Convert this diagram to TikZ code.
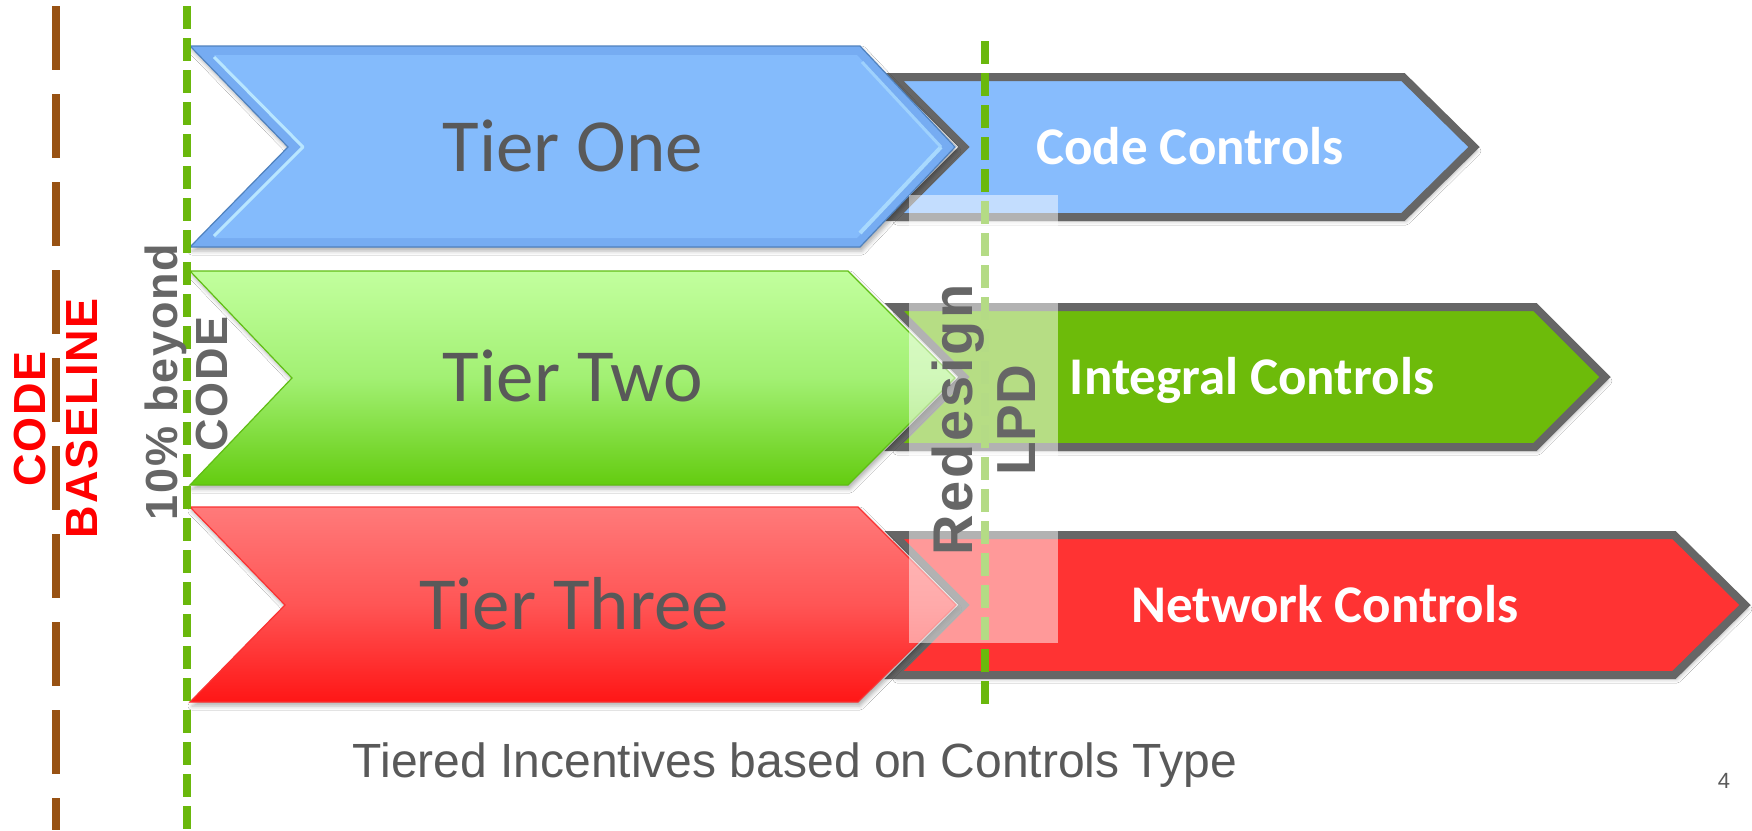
\documentclass[tikz,border=0pt]{standalone}
\usepackage{fontspec}
\setmainfont{Liberation Sans}
\newfontfamily\calfont{Carlito}
\usetikzlibrary{shadows.blur}
\definecolor{brownline}{RGB}{152,82,19}
\definecolor{greenline}{RGB}{106,184,12}
\definecolor{graybd}{RGB}{102,102,102}
\definecolor{tiergray}{RGB}{89,89,89}
\definecolor{blueA}{RGB}{132,187,252}
\definecolor{blueB}{RGB}{118,172,242}
\definecolor{blueE}{RGB}{80,130,190}
\definecolor{blueL}{RGB}{184,230,255}
\definecolor{boxblue}{RGB}{135,188,253}
\definecolor{boxgreen}{RGB}{109,187,10}
\definecolor{boxred}{RGB}{255,51,51}
\definecolor{gtop}{RGB}{194,255,158}
\definecolor{gmid}{RGB}{162,240,115}
\definecolor{gbot}{RGB}{100,204,16}
\definecolor{gedge}{RGB}{96,190,20}
\definecolor{rtop}{RGB}{255,122,122}
\definecolor{rmid}{RGB}{255,85,85}
\definecolor{rbot}{RGB}{255,22,22}
\definecolor{redge}{RGB}{250,50,50}
\tikzset{
  ctrlbox/.style={draw=graybd, line width=8pt, line join=miter,
    blur shadow={shadow xshift=3pt, shadow yshift=-4pt, shadow blur radius=4pt, shadow opacity=30}},
  tiershadow/.style={blur shadow={shadow xshift=2pt, shadow yshift=-4pt, shadow blur radius=4pt, shadow opacity=30}},
  tiertext/.style={text=tiergray, font=\calfont\fontsize{75}{80}\selectfont, inner sep=0pt, anchor=base},
  ctrltext/.style={text=white, font=\calfont\bfseries\fontsize{53}{58}\selectfont, inner sep=0pt, anchor=base},
  sidetext/.style={font=\bfseries\fontsize{45}{50}\selectfont\addfontfeature{LetterSpace=4}, inner sep=0pt, anchor=base, rotate=90},
  lpdtext/.style={text=graybd, font=\bfseries\fontsize{55}{60}\selectfont, inner sep=0pt, anchor=base, rotate=90},
}
\begin{document}
\begin{tikzpicture}[x=1pt,y=-1pt]
\useasboundingbox[fill=white] (0,0) rectangle (1752,830);

% right control shapes
\path[ctrlbox, fill=boxblue] (894,77) -- (1403,77) -- (1474,147) -- (1403,217) -- (894,217) -- (964,147) -- cycle;
\path[ctrlbox, fill=boxgreen] (894,307) -- (1535,307) -- (1605,377) -- (1535,447) -- (894,447) -- (964,377) -- cycle;
\path[ctrlbox, fill=boxred] (894,535) -- (1674,535) -- (1745,605) -- (1674,675) -- (894,675) -- (964,605) -- cycle;

% Tier One (bevelled)
\path[tiershadow, fill=blueB, draw=blueE, line width=1.2pt] (190,46) -- (860,46) -- (955,147) -- (860,247) -- (190,247) -- (288,147) -- cycle;
\path[fill=blueA] (214,55) -- (857,55) -- (941,147) -- (857,238) -- (214,238) -- (303,147) -- cycle;
\draw[blueL, line width=3pt, line join=round] (214,57) -- (303,147) -- (214,236);
\draw[blueL!70!blueA, line width=4pt] (941,147) -- (860,233);
\draw[blueL!50!blueA, line width=3pt] (862,62) -- (941,147);

% Tier Two
\path[tiershadow, top color=gtop, bottom color=gbot, middle color=gmid, draw=gedge, line width=1.2pt] (190,271) -- (848,271) -- (955,378) -- (848,485) -- (190,485) -- (292,378) -- cycle;
% Tier Three
\path[tiershadow, top color=rtop, bottom color=rbot, middle color=rmid, draw=redge, line width=1.2pt] (190,507) -- (858,507) -- (956,605) -- (858,702) -- (190,702) -- (285,605) -- cycle;

% dashed lines
\coordinate (b1) at (56,6);
\coordinate (b2) at (56,830);
\coordinate (g1) at (187,6);
\coordinate (g2) at (187,830);
\coordinate (h1) at (985,41);
\coordinate (h2) at (985,704);
\draw[brownline, line width=8pt, dash pattern=on 64pt off 24pt] (b1) -- (b2);
\draw[greenline, line width=8pt, dash pattern=on 23pt off 9pt] (g1) -- (g2);
\draw[greenline, line width=8pt, dash pattern=on 23pt off 9pt] (h1) -- (h2);

% translucent overlay
\fill[white, opacity=0.5] (909,195) rectangle (1058,643);

% texts
\node[tiertext] (t1) at (573,171) {Tier One};
\node[tiertext] (t2) at (573,401) {Tier Two};
\node[tiertext] (t3) at (574,629) {Tier Three};
\node[ctrltext] (c1) at (1190,164) {Code Controls};
\node[ctrltext] (c2) at (1252,394) {Integral Controls};
\node[ctrltext] (c3) at (1325,622) {Network Controls};

\node[sidetext, text=red] (cb1) at (45,419) {CODE};
\node[sidetext, text=red] (cb2) at (97,418) {BASELINE};
\node[sidetext, text=graybd] (tb1) at (177,382) {10\% beyond};
\node[sidetext, text=graybd] (tb2) at (227,384) {CODE};
\node[lpdtext, font=\bfseries\fontsize{56}{60}\selectfont\addfontfeature{LetterSpace=5}] (rd1) at (972,420) {Redesign};
\node[lpdtext] (rd2) at (1035,420) {LPD};

\node[text=tiergray, font=\fontsize{48}{53}\selectfont, inner sep=0pt, anchor=base] (cap) at (795,777) {Tiered Incentives based on Controls Type};
\node[text=tiergray, font=\fontsize{22}{24}\selectfont, inner sep=0pt, anchor=base] (pg) at (1724,788) {4};
\end{tikzpicture}
\end{document}
